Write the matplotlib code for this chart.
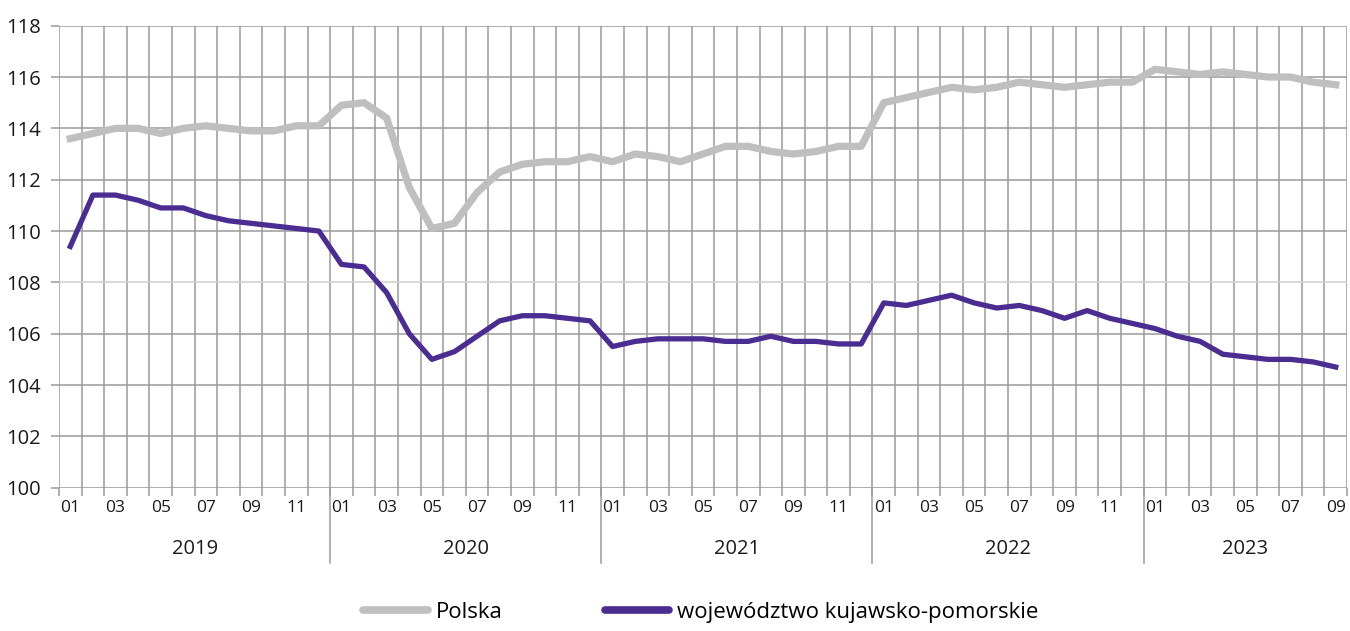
import numpy as np
import matplotlib
matplotlib.use("Agg")
import matplotlib.pyplot as plt
import matplotlib.transforms as mtransforms
from matplotlib.lines import Line2D

plt.rcParams['font.family'] = ['Open Sans', 'DejaVu Sans']

#Monthly values 2019-01 .. 2023-09
years = ['2019', '2020', '2021', '2022', '2023']
months_per_year = [12, 12, 12, 12, 9]

polska = [113.6, 113.8, 114.0, 114.0, 113.8, 114.0, 114.1, 114.0, 113.9, 113.9, 114.1, 114.1,
          114.9, 115.0, 114.4, 111.7, 110.1, 110.3, 111.5, 112.3, 112.6, 112.7, 112.7, 112.9,
          112.7, 113.0, 112.9, 112.7, 113.0, 113.3, 113.3, 113.1, 113.0, 113.1, 113.3, 113.3,
          115.0, 115.2, 115.4, 115.6, 115.5, 115.6, 115.8, 115.7, 115.6, 115.7, 115.8, 115.8,
          116.3, 116.2, 116.1, 116.2, 116.1, 116.0, 116.0, 115.8, 115.7]

kujawsko = [109.4, 111.4, 111.4, 111.2, 110.9, 110.9, 110.6, 110.4, 110.3, 110.2, 110.1, 110.0,
            108.7, 108.6, 107.6, 106.0, 105.0, 105.3, 105.9, 106.5, 106.7, 106.7, 106.6, 106.5,
            105.5, 105.7, 105.8, 105.8, 105.8, 105.7, 105.7, 105.9, 105.7, 105.7, 105.6, 105.6,
            107.2, 107.1, 107.3, 107.5, 107.2, 107.0, 107.1, 106.9, 106.6, 106.9, 106.6, 106.4,
            106.2, 105.9, 105.7, 105.2, 105.1, 105.0, 105.0, 104.9, 104.7]

series_names = ['Polska', 'województwo kujawsko-pomorskie']
series_colors = ['#BFBFBF', '#4B2C91']

#Month tick labels (01..12 within each year)
month_labels = []
for n in months_per_year:
    month_labels += ['%02d' % (m + 1) for m in range(n)]

n = len(polska)
x = np.arange(n)

fig = plt.figure(figsize=(13.5, 6.31), dpi=100)
ax = fig.add_axes([0.0437, 0.2271, 0.9541, 0.7322])

grid_col = '#9A9A9A'

ax.plot(x, polska, color=series_colors[0], lw=5.2, solid_joinstyle='round', label=series_names[0], zorder=3)
ax.plot(x, kujawsko, color=series_colors[1], lw=3.8, solid_joinstyle='round', label=series_names[1], zorder=4)

ax.set_xlim(-0.5, n - 0.5)
ax.set_ylim(100, 118)
ax.set_yticks(np.arange(100, 119, 2))

#Labels on odd months, gridlines/ticks at month boundaries
ax.set_xticks(x[::2])
ax.set_xticklabels(month_labels[::2])
ax.set_xticks(np.arange(n + 1) - 0.5, minor=True)
ax.tick_params(axis='x', which='major', length=0, pad=9, labelsize=12.5, labelcolor='#1a1a1a')
ax.tick_params(axis='x', which='minor', length=6, width=1.1, color=grid_col)
ax.tick_params(axis='y', length=6, width=1.1, color=grid_col, pad=7, labelsize=14.5, labelcolor='#1a1a1a')

ax.grid(True, axis='x', which='minor', color=grid_col, lw=1.1)
ax.grid(True, axis='y', which='major', color=grid_col, lw=1.1)
ax.set_axisbelow(True)
#108 line is lighter in the original
for tick, gl in zip(ax.get_yticks(), ax.yaxis.get_gridlines()):
    if tick == 108:
        gl.set_color('#D0D0D0')

for s in ax.spines.values():
    s.set_visible(False)

#Year labels and separators below the axis
trans = mtransforms.blended_transform_factory(ax.transData, ax.transAxes)
start = 0
for i, (yr, nm) in enumerate(zip(years, months_per_year)):
    centre = start + (nm - 1) / 2.0
    ax.text(centre, -0.132, yr, transform=trans, ha='center', va='center', fontsize=14.5, color='#1a1a1a')
    if i > 0:
        ax.add_line(Line2D([start - 0.5, start - 0.5], [0, -0.163], transform=trans,
                           color=grid_col, lw=1.1, clip_on=False))
    start += nm

leg = fig.legend(loc='center', bbox_to_anchor=(0.519, 0.03), ncol=2, frameon=False,
                 fontsize=16, handlelength=2.9, handletextpad=0.35, columnspacing=4.6)
for h in leg.get_lines():
    h.set_linewidth(5.5)
    h.set_solid_capstyle('round')

fig.savefig('out.png', dpi=100)
